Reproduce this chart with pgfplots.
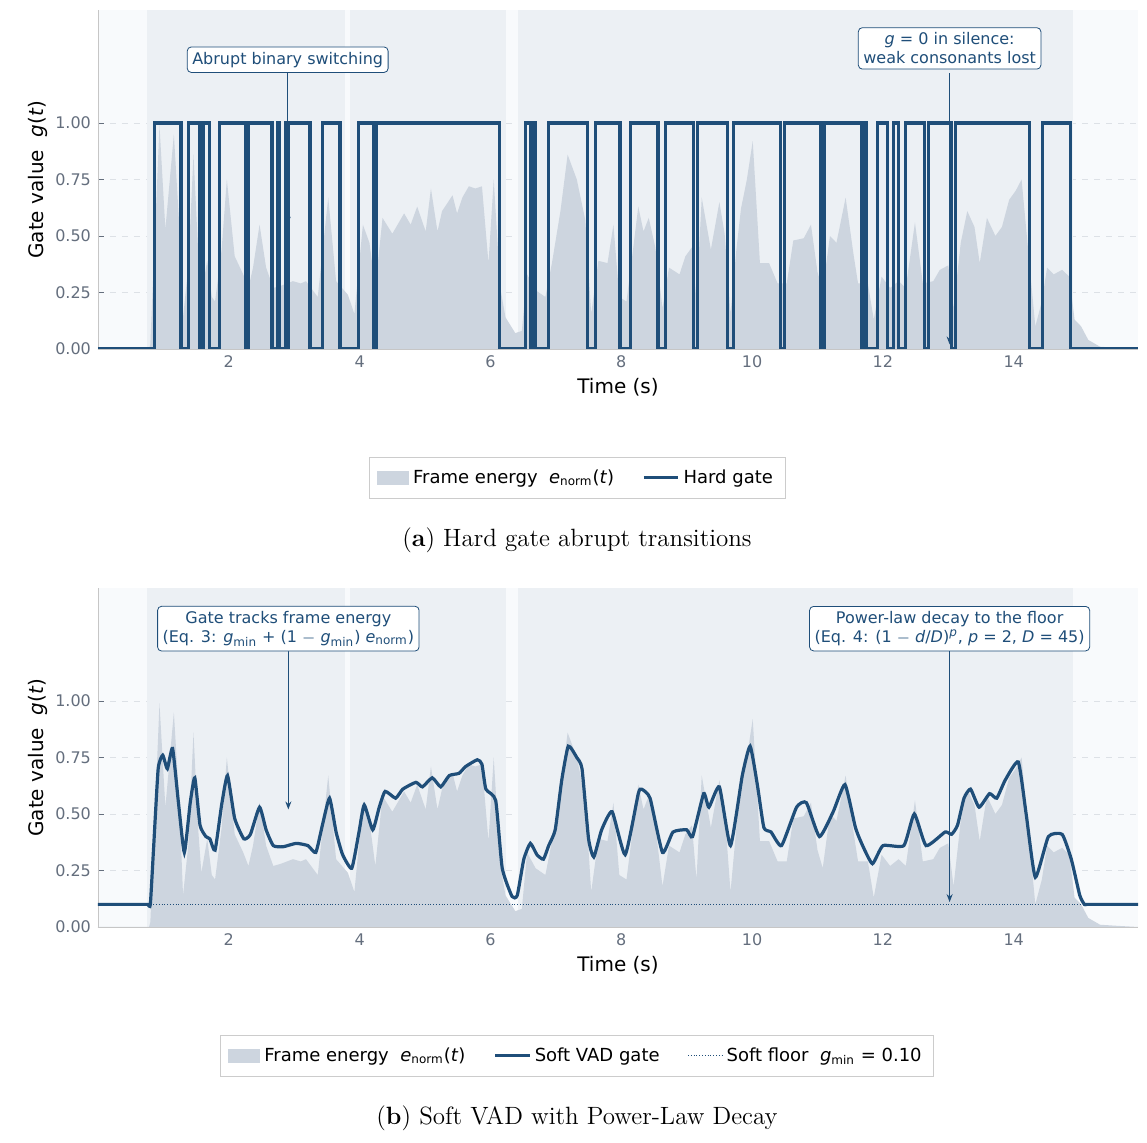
\documentclass[border=0pt]{standalone}
\usepackage{pgfplots}
\usepackage{pgfplotstable}
\pgfplotsset{compat=1.18}
\usepackage{fontspec}
\usetikzlibrary{arrows.meta}
\newfontfamily\dejavu{DejaVu Sans}
\definecolor{gl}{RGB}{31,78,121}
\definecolor{en}{RGB}{205,213,223}
\definecolor{band}{RGB}{236,240,244}
\definecolor{bg}{RGB}{248,250,252}
\definecolor{tk}{RGB}{100,110,125}
\definecolor{gr}{RGB}{221,225,230}
\newcommand{\iv}[1]{\textit{#1}}
\pgfplotstableread{
t v
0 0
0.78 0
0.80 0.02
0.87 0.50
0.94 0.99
1.03 0.53
1.16 0.95
1.25 0.51
1.30 0.14
1.38 0.36
1.46 0.86
1.53 0.44
1.58 0.24
1.67 0.39
1.74 0.23
1.79 0.21
1.89 0.44
1.97 0.75
2.09 0.41
2.22 0.33
2.30 0.27
2.37 0.36
2.47 0.55
2.57 0.36
2.68 0.27
2.80 0.28
2.98 0.30
3.10 0.29
3.18 0.30
3.36 0.23
3.52 0.67
3.64 0.30
3.82 0.24
3.92 0.155
4.05 0.55
4.15 0.47
4.24 0.27
4.35 0.58
4.50 0.51
4.68 0.60
4.78 0.55
4.88 0.63
5.01 0.52
5.09 0.71
5.19 0.52
5.26 0.61
5.42 0.68
5.49 0.60
5.57 0.67
5.67 0.72
5.77 0.71
5.87 0.72
5.97 0.38
6.05 0.75
6.15 0.27
6.23 0.14
6.38 0.07
6.48 0.08
6.56 0.33
6.69 0.26
6.84 0.23
6.94 0.38
7.07 0.61
7.18 0.86
7.32 0.75
7.45 0.57
7.54 0.155
7.65 0.39
7.79 0.38
7.88 0.55
7.97 0.23
8.08 0.21
8.18 0.44
8.26 0.63
8.34 0.52
8.42 0.58
8.52 0.45
8.63 0.18
8.73 0.36
8.89 0.33
8.98 0.41
9.08 0.45
9.15 0.21
9.23 0.67
9.37 0.44
9.50 0.65
9.58 0.51
9.67 0.155
9.76 0.44
9.83 0.62
9.92 0.75
10.01 0.92
10.12 0.38
10.26 0.38
10.39 0.29
10.53 0.29
10.63 0.48
10.79 0.49
10.90 0.55
11.00 0.34
11.08 0.26
11.19 0.50
11.29 0.47
11.43 0.67
11.55 0.42
11.62 0.29
11.77 0.29
11.86 0.13
11.98 0.32
12.11 0.27
12.24 0.30
12.35 0.27
12.49 0.56
12.61 0.29
12.77 0.30
12.87 0.35
13.00 0.37
13.08 0.18
13.19 0.47
13.29 0.61
13.40 0.54
13.48 0.38
13.59 0.58
13.72 0.50
13.82 0.54
13.93 0.66
14.03 0.70
14.12 0.75
14.22 0.44
14.33 0.10
14.43 0.21
14.51 0.36
14.61 0.33
14.74 0.35
14.85 0.32
14.93 0.13
15.03 0.10
15.14 0.04
15.32 0.01
15.59 0.005
15.90 0
}\energy
\pgfplotstableread{
t v
0 0.10
0.30 0.10
0.60 0.10
0.76 0.10
0.80 0.10
0.85 0.35
0.92 0.70
0.99 0.76
1.06 0.70
1.14 0.79
1.23 0.55
1.32 0.33
1.41 0.55
1.48 0.66
1.56 0.45
1.65 0.40
1.71 0.39
1.79 0.34
1.89 0.54
1.98 0.67
2.09 0.48
2.23 0.39
2.33 0.41
2.47 0.53
2.57 0.43
2.68 0.36
2.83 0.355
3.03 0.37
3.21 0.36
3.33 0.33
3.43 0.45
3.54 0.57
3.64 0.42
3.74 0.32
3.88 0.26
3.99 0.42
4.07 0.54
4.20 0.43
4.30 0.53
4.39 0.60
4.55 0.57
4.66 0.61
4.86 0.64
4.96 0.62
5.11 0.66
5.24 0.62
5.37 0.67
5.52 0.68
5.62 0.71
5.80 0.74
5.87 0.72
5.93 0.61
6.08 0.56
6.18 0.26
6.33 0.135
6.41 0.14
6.51 0.30
6.61 0.37
6.71 0.32
6.81 0.30
6.89 0.36
6.99 0.43
7.09 0.65
7.19 0.80
7.32 0.75
7.40 0.70
7.50 0.39
7.58 0.31
7.70 0.43
7.86 0.51
8.06 0.32
8.26 0.59
8.31 0.61
8.44 0.57
8.63 0.33
8.79 0.42
9.00 0.43
9.09 0.40
9.26 0.59
9.34 0.53
9.50 0.62
9.67 0.36
9.85 0.67
9.97 0.80
10.08 0.63
10.18 0.44
10.29 0.42
10.45 0.36
10.68 0.53
10.83 0.55
11.03 0.40
11.24 0.51
11.42 0.63
11.58 0.44
11.69 0.36
11.84 0.28
12.00 0.36
12.32 0.36
12.48 0.50
12.66 0.36
12.95 0.42
13.05 0.41
13.14 0.45
13.24 0.57
13.34 0.61
13.47 0.53
13.63 0.59
13.74 0.57
13.87 0.65
14.07 0.73
14.19 0.50
14.33 0.22
14.53 0.40
14.74 0.41
14.88 0.30
15.01 0.14
15.08 0.10
15.12 0.10
15.40 0.10
15.70 0.10
15.90 0.10
}\soft
\pgfplotsset{
  base/.style={
    scale only axis, width=520pt, height=169.5pt,
    xmin=0, xmax=15.9, ymin=0, ymax=1.5,
    axis background/.style={fill=bg},
    axis x line*=bottom, axis y line*=left,
    axis line style={draw=gray!45},
    xtick={2,4,...,14}, ytick={0,0.25,0.5,0.75,1},
    yticklabel style={/pgf/number format/.cd,fixed,fixed zerofill,precision=2},
    /pgf/number format/assume math mode=true,
    ticklabel style={font=\dejavu\fontsize{8}{9}\selectfont, text=tk},
    tick style={draw=tk, thin}, major tick length=3pt,
    ymajorgrids, grid style={dashed, gr},
    xlabel={Time (s)}, ylabel={Gate value \ \iv{g}(\iv{t})},
    label style={font=\dejavu\fontsize{10}{11}\selectfont},
    xlabel style={yshift=2pt}, ylabel style={yshift=-3pt},
    legend style={at={(0.4606,-0.38)}, anchor=center, draw=gray!40, fill=white,
      font=\dejavu\fontsize{9}{10}\selectfont, legend columns=-1,
      /tikz/every even column/.append style={column sep=12pt}, inner sep=4pt},
    legend cell align=left,
  },
}
\newcommand{\bands}{%
  \fill[band] (axis cs:0.75,0) rectangle (axis cs:3.77,1.5);
  \fill[band] (axis cs:3.85,0) rectangle (axis cs:6.23,1.5);
  \fill[band] (axis cs:6.42,0) rectangle (axis cs:14.90,1.5);
}
\tikzset{ann/.style={draw=gl, fill=white, rounded corners=2pt, text=gl, align=center,
  font=\dejavu\fontsize{8}{9.5}\selectfont, inner sep=2.5pt},
  arr/.style={draw=gl, thick, -{Stealth[length=4pt]}}}
\pgfplotsset{enleg/.style={legend image code/.code={\fill[en] (0pt,-3.5pt) rectangle (16pt,3.5pt);}}}
\begin{document}
\begin{tikzpicture}
\useasboundingbox (0pt,0pt) rectangle (573.5pt,571.5pt);
\begin{axis}[base, at={(49pt,397pt)}, anchor=south west]
\bands
\addplot[fill=en, draw=none, enleg] table {\energy} \closedcycle;
\addlegendentry{Frame energy \ \iv{e}\textsubscript{norm}(\iv{t})}
\addplot[gl, line width=1.6pt, const plot] coordinates {(0,0)(0.86,1)(1.27,0)(1.38,1)(1.56,0)(1.61,1)(1.71,0)(1.86,1)(2.25,0)(2.30,1)(2.66,0)(2.74,1)(2.78,0)(2.87,1)(2.89,0)(2.91,1)(3.24,0)(3.43,1)(3.70,0)(3.98,1)(4.22,0)(4.26,1)(6.14,0)(6.54,1)(6.61,0)(6.66,1)(6.69,0)(6.89,1)(7.48,0)(7.60,1)(7.98,0)(8.14,1)(8.56,0)(8.68,1)(9.10,0)(9.17,1)(9.63,0)(9.72,1)(10.44,0)(10.49,1)(11.05,0)(11.10,1)(11.68,0)(11.73,1)(11.75,0)(11.92,1)(12.07,0)(12.16,1)(12.24,0)(12.34,1)(12.63,0)(12.70,1)(13.05,0)(13.11,1)(14.24,0)(14.44,1)(14.87,0)(15.9,0)};
\addlegendentry{Hard gate}
\draw[arr] (axis cs:2.90,1.23) -- (axis cs:2.90,0.55);
\node[ann] at (axis cs:2.90,1.28) {Abrupt binary switching};
\draw[arr] (axis cs:13.02,1.22) -- (axis cs:13.02,0.02);
\node[ann] at (axis cs:13.02,1.33) {\iv{g} = 0 in silence:\\weak consonants lost};
\end{axis}
\node[font=\fontsize{12.5}{14}\selectfont] at (288.5pt,301.5pt) {(\textbf{a}) Hard gate abrupt transitions};
\begin{axis}[base, at={(49pt,108pt)}, anchor=south west]
\bands
\addplot[fill=en, draw=none, enleg] table {\energy} \closedcycle;
\addlegendentry{Frame energy \ \iv{e}\textsubscript{norm}(\iv{t})}
\addplot[gl, line width=1.6pt, smooth, tension=0.3] table {\soft};
\addlegendentry{Soft VAD gate}
\addplot[gl, densely dotted, thin] coordinates {(0.8,0.1)(15.1,0.1)};
\addlegendentry{Soft floor \ \iv{g}\textsubscript{min} = 0.10}
\draw[arr] (axis cs:2.91,1.22) -- (axis cs:2.91,0.52);
\node[ann] at (axis cs:2.91,1.32) {Gate tracks frame energy\\(Eq. 3: \iv{g}\textsubscript{min} + (1 $-$ \iv{g}\textsubscript{min}) \iv{e}\textsubscript{norm})};
\draw[arr] (axis cs:13.02,1.22) -- (axis cs:13.02,0.11);
\node[ann] at (axis cs:13.02,1.32) {Power-law decay to the floor\\(Eq. 4: (1 $-$ \iv{d}/\iv{D})\textsuperscript{\iv{p}}, \iv{p} = 2, \iv{D} = 45)};
\end{axis}
\node[font=\fontsize{12.5}{14}\selectfont] at (288.5pt,12.5pt) {(\textbf{b}) Soft VAD with Power-Law Decay};
\end{tikzpicture}
\end{document}
